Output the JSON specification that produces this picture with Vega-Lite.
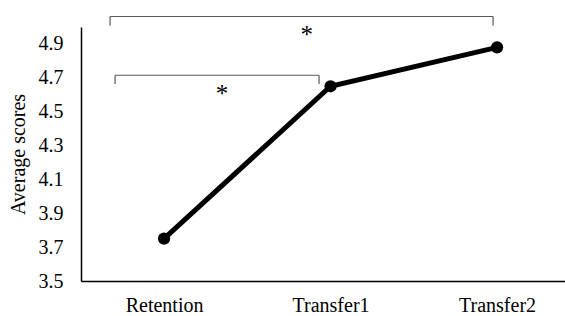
{
  "$schema": "https://vega.github.io/schema/vega-lite/v6.json",
  "width": 484,
  "height": 254,
  "padding": {"left": 81, "top": 27, "right": 0, "bottom": 35},
  "autosize": "none",
  "background": "white",
  "config": {
    "view": {"stroke": null},
    "font": "Liberation Serif",
    "axis": {"labelFont": "Liberation Serif", "titleFont": "Liberation Serif", "labelColor": "black", "titleColor": "black", "grid": false, "ticks": false, "domainColor": "black", "domainWidth": 1.5, "labelOverlap": false}
  },
  "layer": [
    {
      "data": {"values": [
        {"test": "Retention", "score": 3.75},
        {"test": "Transfer1", "score": 4.65},
        {"test": "Transfer2", "score": 4.88}
      ]},
      "encoding": {
        "x": {"field": "test", "type": "ordinal", "sort": null,
              "scale": {"type": "point", "padding": 0.4535, "align": 0.55},
              "axis": {"title": null, "labelAngle": 0, "labelFontSize": 20, "labelPadding": 14}},
        "y": {"field": "score", "type": "quantitative",
              "scale": {"domain": [3.5, 5.0], "nice": false, "zero": false},
              "axis": {"title": "Average scores", "titleFontSize": 20, "titleFontWeight": "normal", "labelFontSize": 20, "labelPadding": 18, "titlePadding": 10, "labelOverlap": false,
                       "values": [3.5, 3.7, 3.9, 4.1, 4.3, 4.5, 4.7, 4.9], "format": ".1f"}}
      },
      "layer": [
        {"mark": {"type": "line", "color": "black", "strokeWidth": 5}},
        {"mark": {"type": "point", "filled": true, "color": "black", "opacity": 1, "size": 150, "shape": "circle"}}
      ]
    },
    {
      "data": {"values": [
        {"a": -0.324, "b": 1.976, "y1": 5.062, "y2": 5.062},
        {"a": -0.324, "b": -0.324, "y1": 5.062, "y2": 5.008},
        {"a": 1.976, "b": 1.976, "y1": 5.062, "y2": 5.008},
        {"a": -0.294, "b": 0.931, "y1": 4.715, "y2": 4.715},
        {"a": -0.294, "b": -0.294, "y1": 4.715, "y2": 4.664},
        {"a": 0.931, "b": 0.931, "y1": 4.715, "y2": 4.664}
      ]},
      "mark": {"type": "rule", "color": "#595959", "strokeWidth": 1.2},
      "encoding": {
        "x": {"field": "a", "type": "quantitative", "scale": {"domain": [-0.4985, 2.408], "nice": false, "zero": false}, "axis": null},
        "x2": {"field": "b"},
        "y": {"field": "y1", "type": "quantitative",
              "axis": {"title": "Average scores", "titleFontSize": 20, "titleFontWeight": "normal", "labelFontSize": 20, "labelPadding": 18, "titlePadding": 10, "labelOverlap": false,
                       "values": [3.5, 3.7, 3.9, 4.1, 4.3, 4.5, 4.7, 4.9], "format": ".1f"}},
        "y2": {"field": "y2"}
      }
    },
    {
      "data": {"values": [
        {"a": 0.857, "y": 4.97, "label": "*"},
        {"a": 0.348, "y": 4.62, "label": "*"}
      ]},
      "mark": {"type": "text", "fontSize": 25, "font": "Liberation Serif", "fill": "#000000", "baseline": "middle", "align": "center", "dy": 3},
      "encoding": {
        "x": {"field": "a", "type": "quantitative", "scale": {"domain": [-0.4985, 2.408], "nice": false, "zero": false}, "axis": null},
        "y": {"field": "y", "type": "quantitative",
              "axis": {"title": "Average scores", "titleFontSize": 20, "titleFontWeight": "normal", "labelFontSize": 20, "labelPadding": 18, "titlePadding": 10, "labelOverlap": false,
                       "values": [3.5, 3.7, 3.9, 4.1, 4.3, 4.5, 4.7, 4.9], "format": ".1f"}},
        "text": {"field": "label"}
      }
    }
  ],
  "resolve": {"scale": {"x": "independent"}}
}
